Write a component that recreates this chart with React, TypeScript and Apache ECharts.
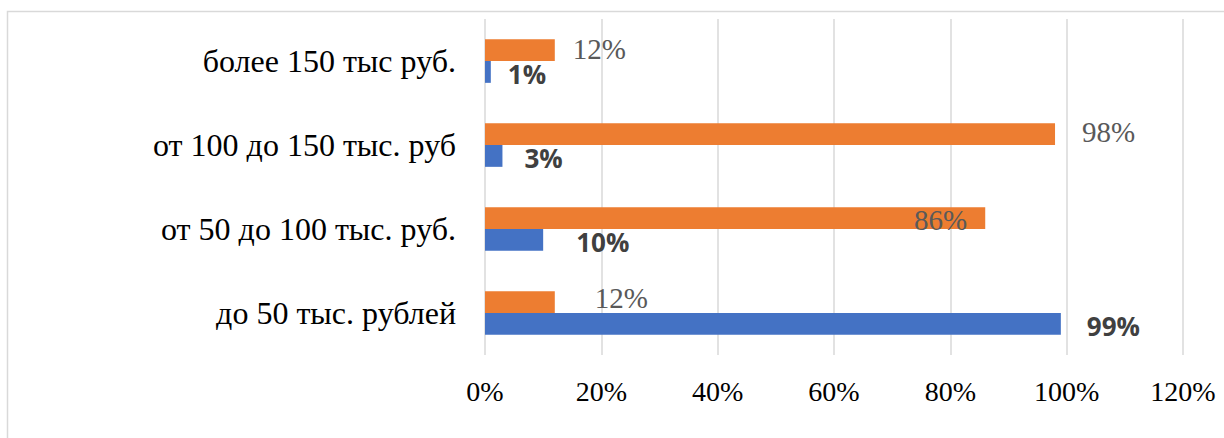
import React, { useEffect, useRef } from "react";
import * as echarts from "echarts";

const categories = [
  "до 50 тыс. рублей",
  "от 50 до 100 тыс. руб.",
  "от 100 до 150 тыс. руб",
  "более 150 тыс руб.",
];
const orangeValues = [12, 86, 98, 12];
const blueValues = [99, 10, 3, 1];
const xTicks = [0, 20, 40, 60, 80, 100, 120];

// label placement tweaks (style, not data)
const orangeLabelOffsets = [[40, -4], [-18, 2], [27, -2], [18, -1]];
const orangeLabelPositions = ["right", "insideRight", "right", "right"];
const blueLabelOffsets = [[26, 2], [33, 2], [22, 2], [17, 2]];

const SERIF = "'Liberation Serif', 'Times New Roman', serif";
const SANS = "'Open Sans', 'Noto Sans', sans-serif";

export default function App() {
  const ref = useRef<HTMLDivElement>(null);
  useEffect(() => {
    if (!ref.current) return;
    const chart = echarts.init(ref.current, null, { renderer: "svg" });
    chart.setOption({
      animation: false,
      backgroundColor: "#ffffff",
      graphic: [
        {
          type: "rect",
          shape: { x: 7.5, y: 11.5, width: 1240, height: 460 },
          style: { fill: "none", stroke: "#D9D9D9", lineWidth: 1.5 },
          silent: true,
        },
      ],
      grid: { left: 485, right: 41, top: 19, bottom: 83, containLabel: false },
      xAxis: {
        type: "value",
        min: xTicks[0],
        max: xTicks[xTicks.length - 1],
        interval: 20,
        axisLine: { show: false },
        axisTick: { show: false },
        splitLine: { lineStyle: { color: "#D9D9D9", width: 1.5 } },
        axisLabel: {
          formatter: "{value}%",
          margin: 22,
          color: "#000000",
          fontFamily: SERIF,
          fontSize: 28,
        },
      },
      yAxis: {
        type: "category",
        data: categories,
        axisLine: { show: false },
        axisTick: { show: false },
        splitLine: { show: false },
        axisLabel: {
          margin: 29,
          color: "#000000",
          fontFamily: SERIF,
          fontSize: 32,
        },
      },
      series: [
        {
          name: "orange",
          type: "bar",
          barGap: "0%",
          barCategoryGap: "48%",
          itemStyle: { color: "#ED7D31" },
          data: orangeValues.map((v, i) => ({
            value: v,
            label: {
              position: orangeLabelPositions[i],
              offset: orangeLabelOffsets[i],
              distance: 0,
            },
          })),
          label: {
            show: true,
            formatter: "{c}%",
            color: "#595959",
            fontFamily: SERIF,
            fontSize: 29,
          },
        },
        {
          name: "blue",
          type: "bar",
          barGap: "0%",
          barCategoryGap: "48%",
          itemStyle: { color: "#4472C4" },
          data: blueValues.map((v, i) => ({
            value: v,
            label: { offset: blueLabelOffsets[i] },
          })),
          label: {
            show: true,
            position: "right",
            distance: 0,
            formatter: "{c}%",
            color: "#404040",
            fontFamily: SANS,
            fontWeight: "bold",
            fontSize: 26,
          },
        },
      ],
    });
    return () => chart.dispose();
  }, []);
  return (
    <div
      ref={ref}
      style={{ position: "fixed", left: 0, top: 0, width: 1224, height: 438 }}
    />
  );
}
